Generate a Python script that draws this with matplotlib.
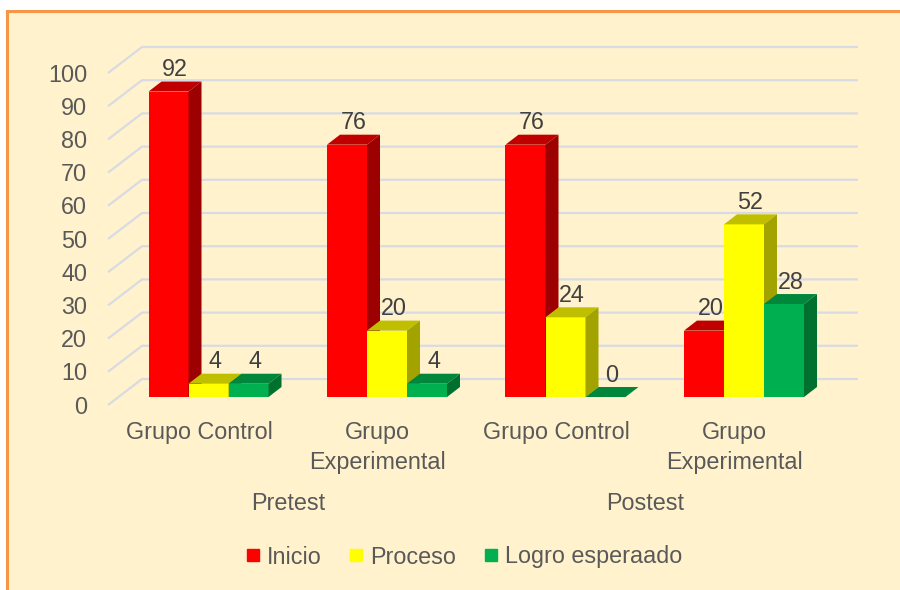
import matplotlib
matplotlib.use('Agg')
import matplotlib.pyplot as plt
from matplotlib.patches import Polygon, Rectangle
from matplotlib.lines import Line2D

etapas = ['Pretest', 'Postest']
grupos = ['Grupo Control', 'Grupo\nExperimental', 'Grupo Control', 'Grupo\nExperimental']
series = ['Inicio', 'Proceso', 'Logro esperaado']
inicio = [92, 76, 76, 20]
proceso = [4, 20, 24, 52]
logro = [4, 4, 0, 28]
yticks = list(range(0, 101, 10))

plt.rcParams['font.family'] = ['Liberation Sans', 'DejaVu Sans']

# face colours of the fake 3d bars: front, top, side
front_cols = ['#FF0000', '#FFFF00', '#00B050']
top_cols = ['#C00000', '#BFBF00', '#00873C']
side_cols = ['#9C0000', '#A3A300', '#00702E']
txt_col = '#595959'
lbl_col = '#404040'
fs = 16.8

# pixel sizes of the oblique projection (1 category = 178.5 px, 1 unit = 3.32 px)
PX_CAT = 178.5
PX_VAL = 3.32
X0_PX, Y0_PX = 199, 405


def px_x(p):
    return p / PX_CAT


def px_y(p):
    return p / PX_VAL


fig = plt.figure(figsize=(9, 5.9), dpi=100, facecolor='white')
fig.patches.append(Rectangle((7 / 900, -0.2), 1.2, 1 - 11 / 590 + 0.2,
                             transform=fig.transFigure, facecolor='#FFF2CC',
                             edgecolor='#F79646', linewidth=2.2, zorder=-10))
ax = fig.add_axes([0, 0, 1, 1])
ax.set_xlim(-X0_PX / PX_CAT, (900 - X0_PX) / PX_CAT)
ax.set_ylim(-(590 - Y0_PX) / PX_VAL, Y0_PX / PX_VAL)
ax.axis('off')

# gridlines on the back wall + value labels at the front edge
wall_dx, wall_dy = px_x(34), px_y(26)
front_x = px_x(108 - X0_PX)
right_x = px_x(858 - X0_PX)
for v in yticks:
    ax.plot([front_x, front_x + wall_dx, right_x], [v, v + wall_dy, v + wall_dy],
            color='#D8DBE3', lw=1.6, zorder=1, solid_capstyle='butt')
    ax.text(front_x - px_x(21), v - px_y(2), str(v), ha='right', va='center',
            fontsize=fs, color=txt_col)

# bars
bar_w = px_x(40)
set_dx, set_dy = px_x(9.5), px_y(8)
d_dx, d_dy = px_x(13), px_y(10)
for i in range(len(grupos)):
    for j, vals in enumerate([inicio, proceso, logro]):
        h = vals[i]
        x0 = i + set_dx + (j - 1.5) * bar_w
        y0 = set_dy
        z = 2 + i * 3 + j
        ax.add_patch(Rectangle((x0, y0), bar_w, h, facecolor=front_cols[j],
                               edgecolor='none', zorder=z))
        ax.add_patch(Polygon([(x0, y0 + h), (x0 + bar_w, y0 + h),
                              (x0 + bar_w + d_dx, y0 + h + d_dy), (x0 + d_dx, y0 + h + d_dy)],
                             closed=True, facecolor=top_cols[j], edgecolor='none', zorder=z))
        ax.add_patch(Polygon([(x0 + bar_w, y0), (x0 + bar_w + d_dx, y0 + d_dy),
                              (x0 + bar_w + d_dx, y0 + h + d_dy), (x0 + bar_w, y0 + h)],
                             closed=True, facecolor=side_cols[j], edgecolor='none', zorder=z))
        ax.text(x0 + bar_w / 2 + d_dx / 2, y0 + h + d_dy + px_y(0.5), str(h),
                ha='center', va='bottom', fontsize=fs, color=lbl_col, zorder=30)

# category and stage labels
for i, g in enumerate(grupos):
    ax.text(i, -px_y(421 - Y0_PX), g, ha='center', va='top', fontsize=fs,
            color=txt_col, linespacing=1.38)
for k, e in enumerate(etapas):
    ax.text(2 * k + 0.5, -px_y(503 - Y0_PX), e, ha='center', va='center',
            fontsize=fs, color=txt_col)

handles = [Line2D([], [], ls='none', marker='s', ms=9, mfc=c, mec=c) for c in front_cols]
ax.legend(handles, series, loc='center', bbox_to_anchor=(464 / 900, 1 - 557 / 590),
          bbox_transform=fig.transFigure, ncol=3, frameon=False, fontsize=fs,
          handlelength=0.6, handletextpad=0.3, columnspacing=1.2, labelcolor=txt_col)

plt.savefig('out.png', dpi=100)
